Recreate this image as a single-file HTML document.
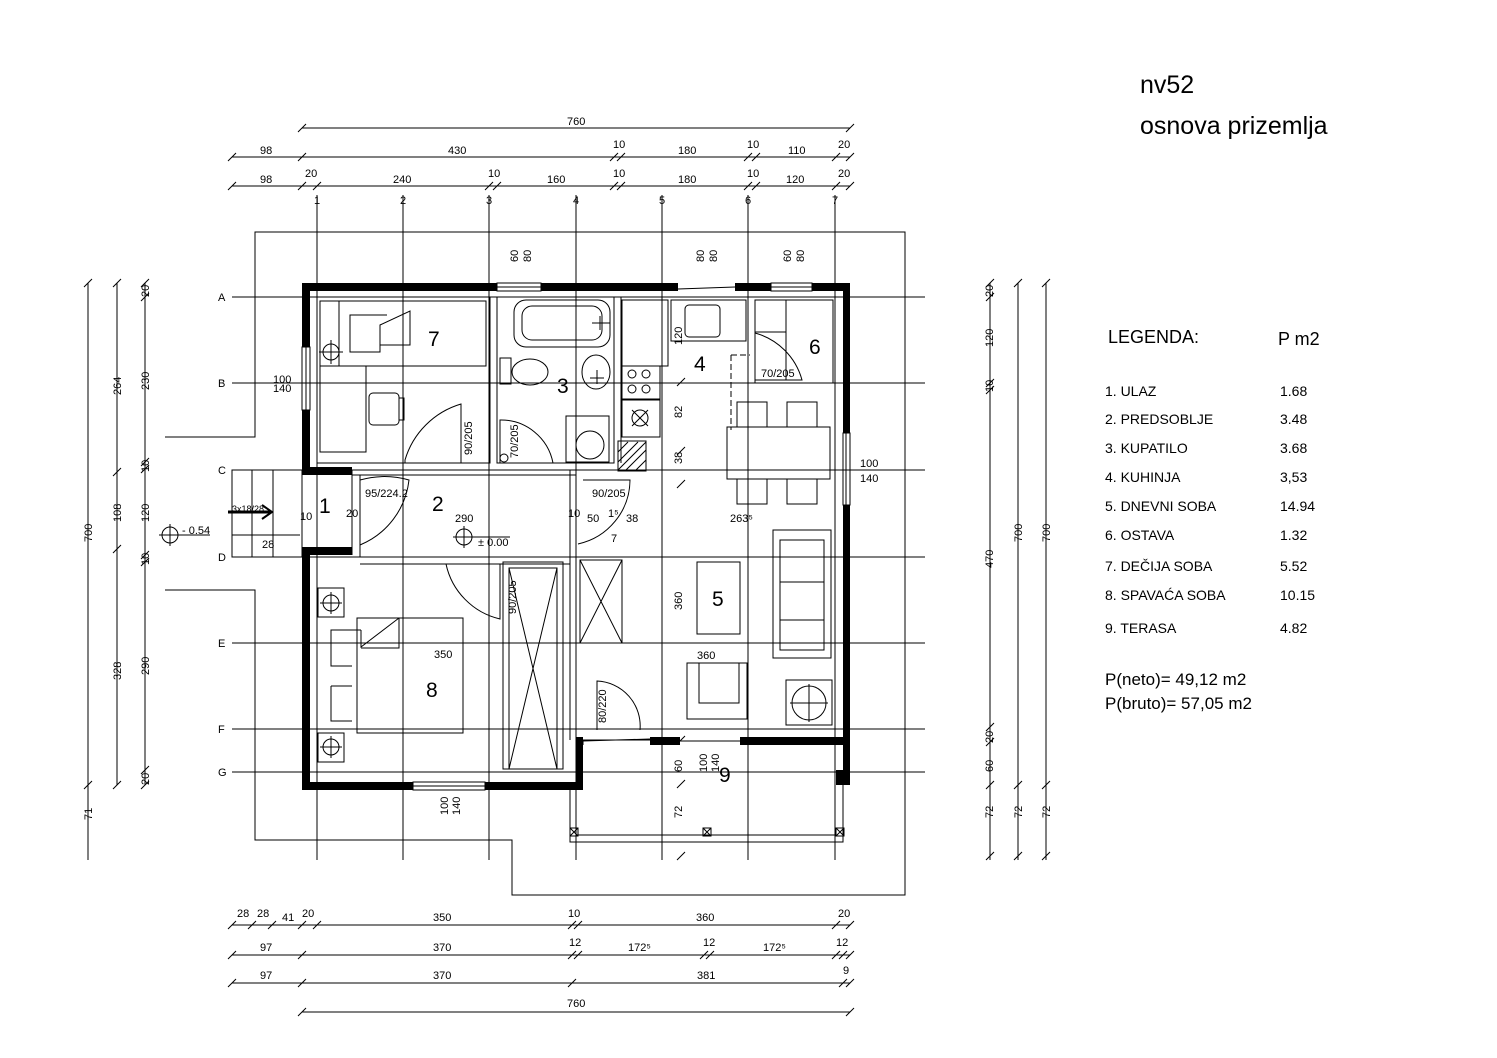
<!DOCTYPE html>
<html><head><meta charset="utf-8"><style>
html,body{margin:0;padding:0;background:#fff}
svg{display:block}
text{font-family:"Liberation Sans",sans-serif;fill:#000}
.d{font-family:"Liberation Sans Narrow","Liberation Sans",sans-serif;font-size:11px}
</style></head><body>
<svg width="1497" height="1058" viewBox="0 0 1497 1058" xmlns="http://www.w3.org/2000/svg">
<g stroke="#000" fill="none" stroke-width="1">
<polyline points="165,437 255,437 255,232 905,232 905,895 512,895 512,840 255,840 255,590 165,590"/>
<line x1="317" y1="195" x2="317" y2="860"/><line x1="403" y1="195" x2="403" y2="860"/>
<line x1="489" y1="195" x2="489" y2="860"/><line x1="576" y1="195" x2="576" y2="860"/>
<line x1="662" y1="195" x2="662" y2="860"/><line x1="748" y1="195" x2="748" y2="860"/>
<line x1="835" y1="195" x2="835" y2="860"/>
<line x1="232" y1="297" x2="925" y2="297"/><line x1="232" y1="383" x2="925" y2="383"/>
<line x1="232" y1="470" x2="925" y2="470"/><line x1="232" y1="557" x2="925" y2="557"/>
<line x1="232" y1="643" x2="925" y2="643"/><line x1="232" y1="729" x2="925" y2="729"/>
<line x1="232" y1="772" x2="925" y2="772"/>
<line x1="302" y1="128" x2="850" y2="128"/>
<line x1="232" y1="157" x2="850" y2="157"/>
<line x1="232" y1="186" x2="850" y2="186"/>
<line x1="232" y1="925" x2="850" y2="925"/>
<line x1="232" y1="955" x2="850" y2="955"/>
<line x1="232" y1="983" x2="850" y2="983"/>
<line x1="302" y1="1012" x2="850" y2="1012"/>
<line x1="88" y1="283" x2="88" y2="860"/>
<line x1="117" y1="283" x2="117" y2="785"/>
<line x1="145" y1="283" x2="145" y2="785"/>
<line x1="990" y1="283" x2="990" y2="860"/>
<line x1="1018" y1="283" x2="1018" y2="860"/>
<line x1="1046" y1="283" x2="1046" y2="860"/>
</g>
<g stroke="#000" stroke-width="1">
<path d="M298,132l8,-8M846,132l8,-8
M228,161l8,-8M298,161l8,-8M610,161l8,-8M617,161l8,-8M744,161l8,-8M752,161l8,-8M832,161l8,-8M846,161l8,-8
M228,190l8,-8M298,190l8,-8M313,190l8,-8M485,190l8,-8M493,190l8,-8M610,190l8,-8M617,190l8,-8M744,190l8,-8M752,190l8,-8M832,190l8,-8M846,190l8,-8
M228,929l8,-8M248,929l8,-8M268,929l8,-8M298,929l8,-8M313,929l8,-8M568,929l8,-8M574,929l8,-8M832,929l8,-8M846,929l8,-8
M228,959l8,-8M298,959l8,-8M568,959l8,-8M574,959l8,-8M700,959l8,-8M706,959l8,-8M832,959l8,-8M839,959l8,-8M846,959l8,-8
M228,987l8,-8M298,987l8,-8M568,987l8,-8M839,987l8,-8M846,987l8,-8
M298,1016l8,-8M846,1016l8,-8
M84,287l8,-8M84,789l8,-8
M113,287l8,-8M113,476l8,-8M113,553l8,-8M113,789l8,-8
M141,287l8,-8M141,301l8,-8M141,466l8,-8M141,473l8,-8M141,559l8,-8M141,566l8,-8M141,774l8,-8M141,789l8,-8
M986,287l8,-8M986,301l8,-8M986,387l8,-8M986,394l8,-8M986,731l8,-8M986,746l8,-8M986,789l8,-8
M1014,287l8,-8M1014,789l8,-8M1042,287l8,-8M1042,789l8,-8
M1014,860l8,-8M1042,860l8,-8M986,860l8,-8
M677,386l8,-8M677,455l8,-8M677,488l8,-8M677,744l8,-8M677,788l8,-8M677,860l8,-8"/>
</g>
<g fill="#000">
<rect x="302" y="283" width="195" height="8"/>
<rect x="541" y="283" width="137" height="8"/>
<rect x="735" y="283" width="36" height="8"/>
<rect x="812" y="283" width="38" height="8"/>
<rect x="302" y="283" width="8" height="64"/>
<rect x="302" y="410" width="8" height="65"/>
<rect x="302" y="467" width="50" height="8"/>
<rect x="302" y="547" width="50" height="8"/>
<rect x="302" y="547" width="8" height="243"/>
<rect x="302" y="782" width="111" height="8"/>
<rect x="485" y="782" width="98" height="8"/>
<rect x="576" y="737" width="7" height="53"/>
<rect x="650" y="737" width="30" height="8"/>
<rect x="740" y="737" width="103" height="8"/>
<rect x="843" y="283" width="7" height="150"/>
<rect x="843" y="505" width="7" height="280"/>
<rect x="836" y="770" width="14" height="15"/>
</g>
<g stroke="#000" fill="none" stroke-width="1">
<rect x="497" y="283" width="44" height="8"/><line x1="497" y1="287" x2="541" y2="287"/>
<rect x="771" y="283" width="41" height="8"/><line x1="771" y1="287" x2="812" y2="287"/>
<rect x="302" y="347" width="8" height="63"/><line x1="306" y1="347" x2="306" y2="410"/>
<rect x="413" y="782" width="72" height="8"/><line x1="413" y1="786" x2="485" y2="786"/>
<rect x="843" y="433" width="7" height="72"/><line x1="846" y1="433" x2="846" y2="505"/>
<line x1="678" y1="289" x2="735" y2="287"/>
<line x1="583" y1="741" x2="650" y2="739"/>
<line x1="680" y1="741" x2="740" y2="741"/>
<line x1="310" y1="297" x2="843" y2="297"/>
<path d="M317,297V463H490V297M497,297V463H614V297M621,297V463"/>
<path d="M352,470H576M352,475H576"/>
<path d="M352,470V555M360,475V557"/>
<path d="M360,557H576M360,564H570"/>
<path d="M570,470V740M576,470V740"/>
<path d="M317,564V772H576"/>
<path d="M583,740V745M583,740H650"/>
<path d="M570,790V842H843V785M576,790V835H835V785"/>
<rect x="570" y="828" width="8" height="8"/><rect x="703" y="828" width="8" height="8"/><rect x="836" y="828" width="8" height="8"/>
<path d="M570,828l8,8M578,828l-8,8M703,828l8,8M711,828l-8,8M836,828l8,8M844,828l-8,8"/>
<rect x="320" y="301" width="166" height="65"/>
<line x1="339" y1="301" x2="339" y2="366"/>
<path d="M387,315H350V352H380V325L410,311V345H380"/>
<rect x="320" y="366" width="46" height="86"/>
<rect x="369" y="393" width="30" height="32" rx="4"/><rect x="399" y="398" width="5" height="22"/>
<circle cx="331" cy="352" r="8"/><path d="M331,340V364M319,352H343"/>
<path d="M405,463V460A83,83 0 0 1 461,404V463"/>
<rect x="514" y="300" width="96" height="47" rx="12"/>
<rect x="522" y="306" width="80" height="34" rx="10"/>
<path d="M592,323H610M600,316V330"/>
<rect x="500" y="358" width="11" height="26"/>
<ellipse cx="530" cy="372" rx="18" ry="13"/>
<ellipse cx="596" cy="372" rx="14" ry="17"/><path d="M590,378H604M597,370V384"/>
<rect x="566" y="416" width="43" height="46"/><circle cx="590" cy="445" r="14"/>
<path d="M500,463V420A53,53 0 0 1 553,463"/>
<circle cx="504" cy="458" r="4"/>
<rect x="622" y="300" width="46" height="66"/>
<rect x="622" y="366" width="38" height="33"/>
<circle cx="632" cy="374" r="4"/><circle cx="646" cy="374" r="4"/><circle cx="632" cy="389" r="4"/><circle cx="646" cy="389" r="4"/>
<rect x="622" y="400" width="38" height="37"/>
<circle cx="640" cy="418" r="8"/>
<path d="M632,410l16,16M648,410l-16,16"/>
<rect x="618" y="441" width="28" height="30"/>
<path d="M618,452l10,-10M618,462l20,-20M618,470l28,-28M626,470l20,-20M636,470l10,-10"/>
<rect x="671" y="300" width="75" height="41"/>
<rect x="685" y="305" width="35" height="32" rx="4"/>
<line x1="711" y1="341" x2="746" y2="341"/>
<line x1="746" y1="300" x2="746" y2="341"/>
<rect x="755" y="300" width="78" height="83"/>
<line x1="755" y1="332" x2="786" y2="332"/>
<line x1="786" y1="300" x2="786" y2="380"/>
<path d="M755,333A67,67 0 0 1 802,380H755"/>
<path d="M731,355H750" stroke-dasharray="6,3"/>
<path d="M731,355V430" stroke-dasharray="6,3"/>
<rect x="737" y="402" width="30" height="25"/><rect x="787" y="402" width="30" height="25"/>
<rect x="727" y="427" width="103" height="52"/>
<rect x="737" y="479" width="30" height="25"/><rect x="787" y="479" width="30" height="25"/>
<rect x="773" y="530" width="58" height="128"/>
<rect x="780" y="540" width="44" height="110"/>
<line x1="780" y1="582" x2="824" y2="582"/><line x1="780" y1="620" x2="824" y2="620"/>
<rect x="697" y="562" width="43" height="72"/>
<rect x="687" y="663" width="60" height="56"/>
<rect x="699" y="663" width="40" height="40"/>
<rect x="786" y="680" width="46" height="45"/>
<circle cx="809" cy="703" r="17"/><path d="M809,684V722M790,703H828"/>
<rect x="580" y="560" width="42" height="83"/><path d="M580,560l42,83M622,560l-42,83"/>
<path d="M360,480A90,90 0 0 1 409,480A80,80 0 0 1 360,545"/>
<path d="M583,480H630A66,66 0 0 1 578,544"/>
<rect x="318" y="588" width="26" height="29"/><circle cx="331" cy="603" r="8"/><path d="M331,592V614M320,603H342"/>
<rect x="318" y="733" width="26" height="29"/><circle cx="331" cy="747" r="8"/><path d="M331,736V758M320,747H342"/>
<rect x="357" y="618" width="106" height="115"/>
<path d="M361,630V647L399,618M399,618V648H361"/>
<path d="M361,630H331V666H352M331,686H352M331,686V721H352"/>
<path d="M446,564A72,72 0 0 0 500,619V564"/>
<rect x="503" y="562" width="60" height="207"/>
<rect x="509" y="568" width="48" height="201"/>
<path d="M509,568l48,201M557,568l-48,201"/>
<path d="M597,730V681A45,45 0 0 1 640,730"/>
<rect x="232" y="470" width="70" height="87"/>
<line x1="252" y1="470" x2="252" y2="557"/><line x1="273" y1="470" x2="273" y2="557"/>
<line x1="232" y1="535" x2="300" y2="535"/>
<circle cx="170" cy="535" r="8"/><path d="M170,524V546M159,535H210"/>
<circle cx="464" cy="537" r="8"/><path d="M464,526V548M453,537H510"/>
</g>
<path d="M228,512H270" stroke="#000" stroke-width="3"/><path d="M262,505l10,7-10,7" stroke="#000" stroke-width="2" fill="none"/>
<text x="1140" y="93" font-size="25">nv52</text>
<text x="1140" y="134" font-size="25">osnova prizemlja</text>
<text x="1108" y="343" font-size="18">LEGENDA:</text>
<text x="1278" y="345" font-size="18">P m2</text>
<g font-size="14">
<text x="1105" y="396">1.  ULAZ</text><text x="1280" y="396">1.68</text>
<text x="1105" y="424">2.  PREDSOBLJE</text><text x="1280" y="424">3.48</text>
<text x="1105" y="453">3.  KUPATILO</text><text x="1280" y="453">3.68</text>
<text x="1105" y="482">4.  KUHINJA</text><text x="1280" y="482">3,53</text>
<text x="1105" y="511">5.  DNEVNI SOBA</text><text x="1280" y="511">14.94</text>
<text x="1105" y="540">6.  OSTAVA</text><text x="1280" y="540">1.32</text>
<text x="1105" y="571">7.  DEČIJA SOBA</text><text x="1280" y="571">5.52</text>
<text x="1105" y="600">8.  SPAVAĆA SOBA</text><text x="1280" y="600">10.15</text>
<text x="1105" y="633">9.  TERASA</text><text x="1280" y="633">4.82</text>
</g>
<text x="1105" y="685" font-size="17">P(neto)=  49,12 m2</text>
<text x="1105" y="709" font-size="17">P(bruto)= 57,05 m2</text>
<g font-size="21">
<text x="428" y="346">7</text><text x="557" y="393">3</text><text x="694" y="371">4</text>
<text x="809" y="354">6</text><text x="319" y="513">1</text><text x="432" y="511">2</text>
<text x="712" y="606">5</text><text x="426" y="697">8</text><text x="719" y="782">9</text>
</g>
<g class="d" font-size="10">
<text x="314" y="204">1</text><text x="400" y="204">2</text><text x="486" y="204">3</text><text x="573" y="204">4</text>
<text x="659" y="204">5</text><text x="745" y="204">6</text><text x="832" y="204">7</text>
<text x="218" y="301">A</text><text x="218" y="387">B</text><text x="218" y="474">C</text><text x="218" y="561">D</text>
<text x="218" y="647">E</text><text x="218" y="733">F</text><text x="218" y="776">G</text>
</g>
<g class="d">
<text x="567" y="125">760</text>
<text x="260" y="154">98</text><text x="448" y="154">430</text><text x="613" y="148">10</text><text x="678" y="154">180</text><text x="747" y="148">10</text><text x="788" y="154">110</text><text x="838" y="148">20</text>
<text x="260" y="183">98</text><text x="305" y="177">20</text><text x="393" y="183">240</text><text x="488" y="177">10</text><text x="547" y="183">160</text><text x="613" y="177">10</text><text x="678" y="183">180</text><text x="747" y="177">10</text><text x="786" y="183">120</text><text x="838" y="177">20</text>
<text x="237" y="917">28</text><text x="257" y="917">28</text><text x="282" y="921">41</text><text x="302" y="917">20</text><text x="433" y="921">350</text><text x="568" y="917">10</text><text x="696" y="921">360</text><text x="838" y="917">20</text>
<text x="260" y="951">97</text><text x="433" y="951">370</text><text x="569" y="946">12</text><text x="628" y="951">172⁵</text><text x="703" y="946">12</text><text x="763" y="951">172⁵</text><text x="836" y="946">12</text>
<text x="260" y="979">97</text><text x="433" y="979">370</text><text x="697" y="979">381</text><text x="843" y="974">9</text>
<text x="567" y="1007">760</text>
<text x="300" y="520">10</text><text x="346" y="517">20</text><text x="455" y="522">290</text><text x="568" y="517">10</text><text x="587" y="522">50</text><text x="608" y="517">1⁵</text><text x="626" y="522">38</text><text x="611" y="542">7</text><text x="730" y="522">263⁵</text>
<text x="365" y="497">95/224.2</text><text x="592" y="497">90/205</text><text x="761" y="377">70/205</text>
<text x="478" y="546">± 0.00</text><text x="182" y="534">- 0.54</text>
<text x="262" y="548">28</text><text x="232" y="512" font-size="9">3x18/28</text>
<text x="273" y="383">100</text><text x="273" y="392">140</text>
<text x="860" y="467">100</text><text x="860" y="482">140</text>
<text x="434" y="658">350</text><text x="697" y="659">360</text>
</g>
<g class="d">
<text transform="translate(518,262) rotate(-90)">60</text><text transform="translate(531,262) rotate(-90)">80</text>
<text transform="translate(704,262) rotate(-90)">80</text><text transform="translate(717,262) rotate(-90)">80</text>
<text transform="translate(791,262) rotate(-90)">60</text><text transform="translate(804,262) rotate(-90)">80</text>
<text transform="translate(472,455) rotate(-90)">90/205</text>
<text transform="translate(518,458) rotate(-90)">70/205</text>
<text transform="translate(516,614) rotate(-90)">90/205</text>
<text transform="translate(606,723) rotate(-90)">80/220</text>
<text transform="translate(682,345) rotate(-90)">120</text>
<text transform="translate(682,418) rotate(-90)">82</text>
<text transform="translate(682,464) rotate(-90)">38</text>
<text transform="translate(682,610) rotate(-90)">360</text>
<text transform="translate(682,772) rotate(-90)">60</text>
<text transform="translate(682,818) rotate(-90)">72</text>
<text transform="translate(707,772) rotate(-90)">100</text><text transform="translate(719,772) rotate(-90)">140</text>
<text transform="translate(448,815) rotate(-90)">100</text><text transform="translate(460,815) rotate(-90)">140</text>
<text transform="translate(92,542) rotate(-90)">700</text>
<text transform="translate(92,820) rotate(-90)">71</text>
<text transform="translate(121,395) rotate(-90)">264</text>
<text transform="translate(121,522) rotate(-90)">108</text>
<text transform="translate(121,680) rotate(-90)">328</text>
<text transform="translate(149,297) rotate(-90)">20</text>
<text transform="translate(149,390) rotate(-90)">230</text>
<text transform="translate(149,472) rotate(-90)">10</text>
<text transform="translate(149,522) rotate(-90)">120</text>
<text transform="translate(149,565) rotate(-90)">10</text>
<text transform="translate(149,675) rotate(-90)">290</text>
<text transform="translate(149,785) rotate(-90)">20</text>
<text transform="translate(993,297) rotate(-90)">20</text>
<text transform="translate(993,347) rotate(-90)">120</text>
<text transform="translate(993,392) rotate(-90)">10</text>
<text transform="translate(993,568) rotate(-90)">470</text>
<text transform="translate(993,743) rotate(-90)">20</text>
<text transform="translate(993,772) rotate(-90)">60</text>
<text transform="translate(993,818) rotate(-90)">72</text>
<text transform="translate(1022,542) rotate(-90)">700</text>
<text transform="translate(1022,818) rotate(-90)">72</text>
<text transform="translate(1050,542) rotate(-90)">700</text>
<text transform="translate(1050,818) rotate(-90)">72</text>
</g>
</svg>
</body></html>
